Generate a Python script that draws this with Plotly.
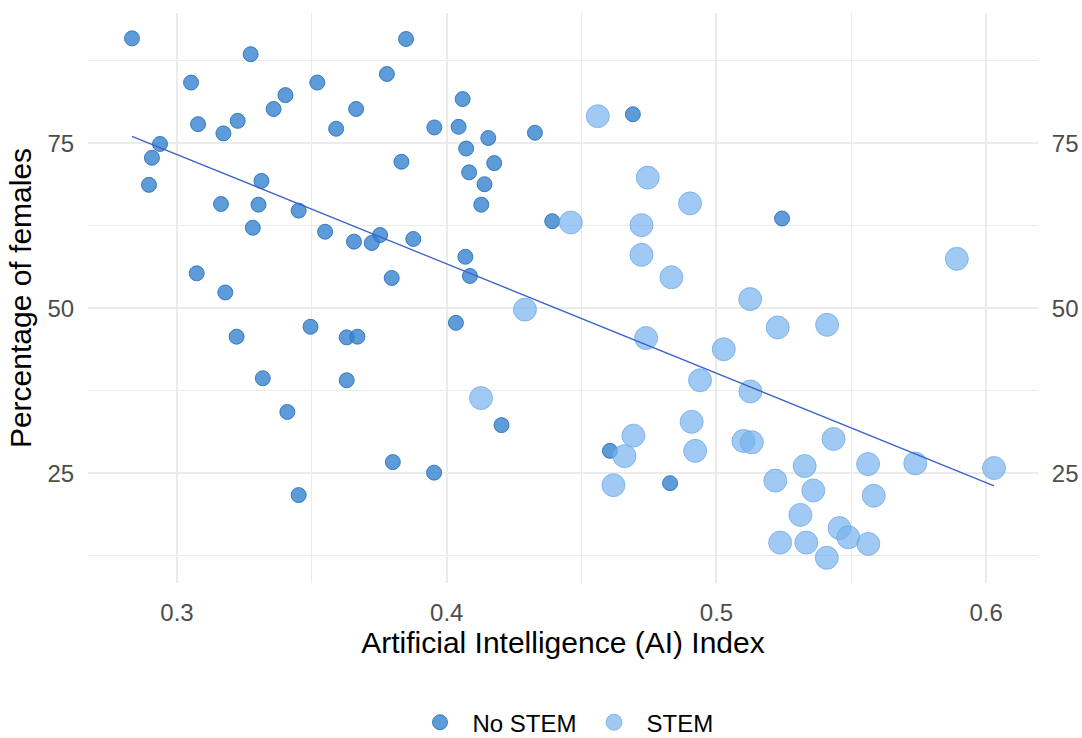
import numpy as np
import plotly.graph_objects as go

# AI index and share of female workers, occupations without STEM profile
no_stem_ai = [0.2833, 0.3273, 0.3052, 0.3520, 0.3402, 0.3358, 0.3664, 0.3078, 0.3225, 0.3172,
              0.3590, 0.2937, 0.2907, 0.2896, 0.3313, 0.3163, 0.3302, 0.3451, 0.3281, 0.3549,
              0.3656, 0.3849, 0.3778, 0.4059, 0.3954, 0.4044, 0.4154, 0.4327, 0.4690, 0.4072,
              0.4176, 0.3832, 0.4083, 0.4140, 0.4128, 0.4391, 0.3753, 0.3722, 0.3876, 0.5243,
              0.3073, 0.3179, 0.3221, 0.3495, 0.3629, 0.3669, 0.3318, 0.3629, 0.3409, 0.3451,
              0.4069, 0.4086, 0.3796, 0.4034, 0.4203, 0.4605, 0.3800, 0.3953, 0.4828]
no_stem_fem = [90.9, 88.5, 84.2, 84.2, 82.3, 80.2, 80.2, 77.9, 78.4, 76.5,
               77.2, 74.9, 72.8, 68.7, 69.3, 65.8, 65.7, 64.8, 62.2, 61.6,
               60.1, 90.8, 85.5, 81.7, 77.4, 77.5, 75.8, 76.6, 79.4, 74.2,
               72.0, 72.2, 70.6, 68.8, 65.7, 63.2, 61.1, 59.9, 60.5, 63.6,
               55.3, 52.4, 45.7, 47.2, 45.6, 45.7, 39.4, 39.1, 34.3, 21.7,
               57.8, 54.9, 54.6, 47.8, 32.3, 28.4, 26.7, 25.1, 23.5]

# STEM occupations
stem_ai = [0.4560, 0.4745, 0.4902, 0.4722, 0.4460, 0.4722, 0.4833, 0.5891, 0.5125, 0.4290,
           0.4739, 0.5227, 0.5410, 0.5027, 0.4939, 0.5126, 0.4127, 0.4908, 0.4692, 0.4921,
           0.4659, 0.4618, 0.5100, 0.5131, 0.5434, 0.5327, 0.5562, 0.5737, 0.6029, 0.5218,
           0.5359, 0.5583, 0.5311, 0.5456, 0.5489, 0.5236, 0.5333, 0.5563, 0.5409]
stem_fem = [79.1, 69.8, 65.9, 62.6, 63.0, 58.1, 54.7, 57.5, 51.4, 49.8,
            45.5, 47.1, 47.5, 43.8, 39.1, 37.4, 36.4, 32.8, 30.7, 28.4,
            27.6, 23.2, 29.9, 29.7, 30.2, 26.1, 26.4, 26.5, 25.8, 23.9,
            22.4, 21.6, 18.7, 16.7, 15.3, 14.5, 14.5, 14.3, 12.2]

x_ticks = [0.3, 0.4, 0.5, 0.6]
x_tick_labels = ["0.3", "0.4", "0.5", "0.6"]
y_ticks = [25, 50, 75]
y_tick_labels = ["25", "50", "75"]

x_range = [0.267, 0.6192]
y_range = [8.38, 94.74]

# Linear fit over all occupations
all_x = np.array(no_stem_ai + stem_ai)
all_y = np.array(no_stem_fem + stem_fem)
slope, intercept = np.polyfit(all_x, all_y, 1)
fit_x = np.array([all_x.min(), all_x.max()])
fit_y = intercept + slope * fit_x

FONT = "Liberation Sans, Arial, sans-serif"
GRID = "#ebebeb"
TICK_FONT = dict(size=24, color="#4d4d4d")

fig = go.Figure()
fig.add_trace(go.Scatter(
    x=no_stem_ai, y=no_stem_fem, mode="markers", name="No STEM",
    marker=dict(size=15, color="rgba(52,130,207,0.8)",
                line=dict(color="rgba(40,110,180,0.85)", width=1)),
))
fig.add_trace(go.Scatter(
    x=stem_ai, y=stem_fem, mode="markers", name="STEM",
    marker=dict(size=23, color="rgba(120,180,238,0.7)",
                line=dict(color="rgba(105,165,228,0.7)", width=1)),
))
fig.add_trace(go.Scatter(
    x=fit_x, y=fit_y, mode="lines", showlegend=False,
    line=dict(color="#3a62c9", width=1.3), hoverinfo="skip",
))
# mirrored right-hand axis
fig.add_trace(go.Scatter(
    x=[None], y=[None], yaxis="y2", showlegend=False, hoverinfo="skip",
))

fig.update_layout(
    width=1082, height=738,
    margin=dict(l=88, r=44, t=13, b=155, autoexpand=False),
    plot_bgcolor="white", paper_bgcolor="white",
    font=dict(family=FONT, color="#4d4d4d"),
    xaxis=dict(
        range=x_range, tickvals=x_ticks, ticktext=x_tick_labels,
        showgrid=True, gridcolor=GRID, gridwidth=1.6,
        minor=dict(dtick=0.05, tick0=0.25, showgrid=True, gridcolor=GRID, gridwidth=1.1),
        zeroline=False, showline=False,
        ticks="outside", ticklen=8, tickcolor="rgba(0,0,0,0)",
        tickfont=TICK_FONT,
        title=dict(text="Artificial Intelligence (AI) Index",
                   font=dict(size=30, color="black"), standoff=4),
    ),
    yaxis=dict(
        range=y_range, tickvals=y_ticks, ticktext=y_tick_labels,
        showgrid=True, gridcolor=GRID, gridwidth=1.6,
        minor=dict(dtick=12.5, tick0=0, showgrid=True, gridcolor=GRID, gridwidth=1.1),
        zeroline=False, showline=False,
        ticks="outside", ticklen=8, tickcolor="rgba(0,0,0,0)",
        tickfont=TICK_FONT,
        title=dict(text="Percentage of females",
                   font=dict(size=30, color="black"), standoff=6),
    ),
    yaxis2=dict(
        range=y_range, tickvals=y_ticks, ticktext=y_tick_labels,
        overlaying="y", side="right", showgrid=False, zeroline=False, showline=False,
        ticks="outside", ticklen=8, tickcolor="rgba(0,0,0,0)",
        tickfont=TICK_FONT,
    ),
    legend=dict(
        orientation="h", x=0.5, xanchor="center", y=-0.245, yanchor="middle",
        font=dict(size=24, color="black"), itemwidth=55,
    ),
    showlegend=True,
)

fig.write_html("out.html")
